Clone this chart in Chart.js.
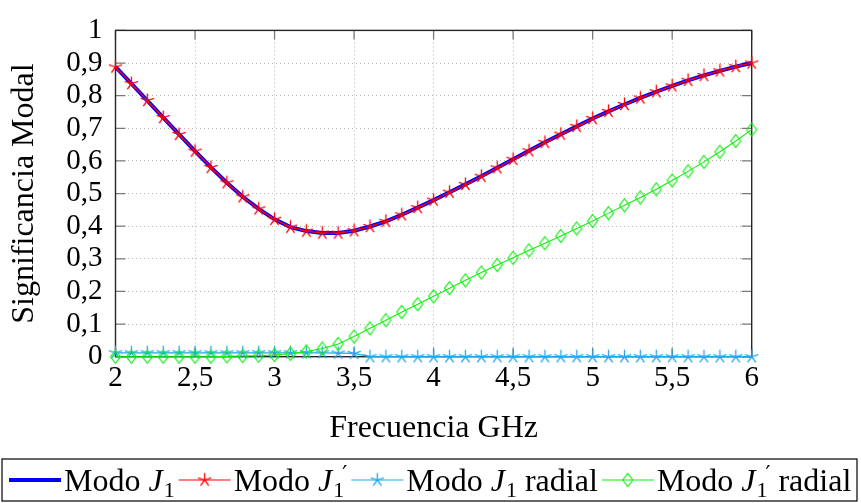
<!DOCTYPE html>
<html><head><meta charset="utf-8">
<script src="https://cdn.jsdelivr.net/npm/chart.js@4.4.0/dist/chart.umd.min.js"></script>
<style>html,body{margin:0;padding:0;background:#fff;}#wrap{width:861px;height:503px;position:relative;}</style>
</head><body><div id="wrap"><canvas id="c"></canvas></div>
<script>
const frequencies = [2.0,2.1,2.2,2.3,2.4,2.5,2.6,2.7,2.8,2.9,3.0,3.1,3.2,3.3,3.4,3.5,3.6,3.7,3.8,3.9,4.0,4.1,4.2,4.3,4.4,4.5,4.6,4.7,4.8,4.9,5.0,5.1,5.2,5.3,5.4,5.5,5.6,5.7,5.8,5.9,6.0];
const modoJ1 = [0.888,0.837,0.785,0.733,0.681,0.630,0.580,0.533,0.490,0.453,0.421,0.397,0.385,0.379,0.379,0.386,0.399,0.415,0.435,0.457,0.480,0.504,0.528,0.553,0.579,0.605,0.631,0.657,0.682,0.706,0.730,0.752,0.773,0.793,0.812,0.830,0.847,0.862,0.876,0.889,0.900];
const modoJ1p = [0.888,0.837,0.785,0.733,0.681,0.630,0.580,0.533,0.490,0.453,0.421,0.397,0.385,0.379,0.379,0.386,0.399,0.415,0.435,0.457,0.480,0.504,0.528,0.553,0.579,0.605,0.631,0.657,0.682,0.706,0.730,0.752,0.773,0.793,0.812,0.830,0.847,0.862,0.876,0.889,0.900];
const modoJ1radial = [0.012,0.012,0.012,0.012,0.012,0.012,0.012,0.012,0.012,0.012,0.012,0.012,0.012,0.012,0.011,0.010,0,0,0,0,0,0,0,0,0,0,0,0,0,0,0,0,0,0,0,0,0,0,0,0,0];
const modoJ1pRadial = [0,0,0,0,0,0,0,0.001,0.002,0.003,0.005,0.009,0.016,0.025,0.039,0.062,0.087,0.112,0.137,0.161,0.185,0.210,0.234,0.258,0.281,0.303,0.326,0.348,0.370,0.393,0.416,0.440,0.464,0.488,0.513,0.540,0.568,0.597,0.628,0.661,0.696];
const xTickLabels = ['2','2,5','3','3,5','4','4,5','5','5,5','6'];
const yTickLabels = ['0','0,1','0,2','0,3','0,4','0,5','0,6','0,7','0,8','0,9','1'];
const seriesNames = ['Modo J1','Modo J1\u2032','Modo J1 radial','Modo J1\u2032 radial'];
const legendParts = [
  {pre:'Modo ', sym:'J', sub:'1', prime:false, post:''},
  {pre:'Modo ', sym:'J', sub:'1', prime:true, post:''},
  {pre:'Modo ', sym:'J', sub:'1', prime:false, post:' radial'},
  {pre:'Modo ', sym:'J', sub:'1', prime:true, post:' radial'}
];
const FONT = 'Liberation Serif';

function starImg(color, r, lw){
  const s = Math.ceil(2*r + 2*lw + 2);
  const c = document.createElement('canvas'); c.width = s; c.height = s;
  const g = c.getContext('2d'); g.strokeStyle = color; g.lineWidth = lw;
  g.beginPath();
  for (let k=0;k<5;k++){ const a = -Math.PI/2 + k*2*Math.PI/5; g.moveTo(s/2,s/2); g.lineTo(s/2 + r*Math.cos(a), s/2 + r*Math.sin(a)); }
  g.stroke(); return c;
}
function diamondImg(color, w, h, lw){
  const sw = Math.ceil(w + 2*lw + 2), sh = Math.ceil(h + 2*lw + 2);
  const c = document.createElement('canvas'); c.width = sw; c.height = sh;
  const g = c.getContext('2d'); g.strokeStyle = color; g.lineWidth = lw;
  g.beginPath(); g.moveTo(sw/2, sh/2 - h/2); g.lineTo(sw/2 + w/2, sh/2); g.lineTo(sw/2, sh/2 + h/2); g.lineTo(sw/2 - w/2, sh/2); g.closePath(); g.stroke();
  return c;
}
const redStar = starImg('#ff0000', 7, 1.3);
const cyanStar = starImg('#1fa8e6', 7, 1.3);
const greenDiamond = diamondImg('#11ee11', 10, 13, 1.2);

function pts(ys){ return frequencies.map((f,i)=>({x:f, y:ys[i]})); }

const framePlugin = {
  id:'frame',
  beforeDatasetsDraw(chart){
    const {ctx, chartArea:a, scales:{x, y}} = chart;
    ctx.save();
    ctx.strokeStyle = '#7a7a7a'; ctx.lineWidth = 1.3;
    x.ticks.forEach(t=>{ const px = x.getPixelForValue(t.value); ctx.beginPath(); ctx.moveTo(px, a.bottom); ctx.lineTo(px, a.bottom-9); ctx.moveTo(px, a.top); ctx.lineTo(px, a.top+9); ctx.stroke(); });
    y.ticks.forEach(t=>{ const py = y.getPixelForValue(t.value); ctx.beginPath(); ctx.moveTo(a.left, py); ctx.lineTo(a.left+10, py); ctx.moveTo(a.right, py); ctx.lineTo(a.right-10, py); ctx.stroke(); });
    ctx.strokeStyle = '#262626'; ctx.lineWidth = 1.4;
    ctx.strokeRect(a.left, a.top, a.right-a.left, a.bottom-a.top);
    ctx.restore();
  }
};

const legendPlugin = {
  id:'texLegend',
  afterDraw(chart){
    const ctx = chart.ctx;
    const S = 32, subS = 22;
    const boxTop = 459, boxBottom = 501, boxLeft = 2, boxRight = 857;
    const cy = 480, base = 491;
    ctx.save();
    ctx.strokeStyle = '#000'; ctx.lineWidth = 1.2;
    ctx.strokeRect(boxLeft, boxTop, boxRight-boxLeft, boxBottom-boxTop);
    ctx.fillStyle = '#000'; ctx.textBaseline = 'alphabetic'; ctx.textAlign = 'left';
    let x = 9;
    const L = 52;
    chart.data.datasets.forEach((ds, i)=>{
      ctx.strokeStyle = ds.borderColor; ctx.lineWidth = ds.borderWidth;
      ctx.beginPath(); ctx.moveTo(x, cy); ctx.lineTo(x+L, cy); ctx.stroke();
      if (ds.pointStyle && typeof ds.pointStyle === 'object') {
        const im = ds.pointStyle; ctx.drawImage(im, x + L/2 - im.width/2, cy - im.height/2);
      }
      x += L + 3;
      const p = legendParts[i];
      ctx.font = S + 'px "' + FONT + '"'; ctx.fillText(p.pre, x, base); x += ctx.measureText(p.pre).width;
      ctx.font = 'italic ' + S + 'px "' + FONT + '"'; ctx.fillText(p.sym, x, base); x += ctx.measureText(p.sym).width + 1;
      ctx.font = subS + 'px "' + FONT + '"';
      ctx.fillText(p.sub, x, base + 6); let w = ctx.measureText(p.sub).width;
      if (p.prime) {
        ctx.font = '22px "DejaVu Sans"';
        ctx.fillText('\u2032', x + 9, base - 10);
        w = Math.max(w, ctx.measureText('\u2032').width + 9);
      }
      x += w;
      if (p.post) { ctx.font = S + 'px "' + FONT + '"'; ctx.fillText(p.post, x, base); x += ctx.measureText(p.post).width; }
      x += 4;
    });
    ctx.restore();
  }
};

const tickFont = {family: FONT, size: 29};
new Chart(document.getElementById('c'), {
  type: 'scatter',
  data: { datasets: [
    {label: seriesNames[0], data: pts(modoJ1), showLine: true, borderColor: '#0000ff', backgroundColor: '#0000ff', borderWidth: 4, pointRadius: 0, clip: false, order: 4},
    {label: seriesNames[1], data: pts(modoJ1p), showLine: true, borderColor: '#ff0000', backgroundColor: '#ff0000', borderWidth: 1.2, pointStyle: redStar, pointRadius: 6, clip: false, order: 3},
    {label: seriesNames[2], data: pts(modoJ1radial), showLine: true, borderColor: '#1fa8e6', backgroundColor: '#1fa8e6', borderWidth: 1.2, pointStyle: cyanStar, pointRadius: 6, clip: false, order: 2},
    {label: seriesNames[3], data: pts(modoJ1pRadial), showLine: true, borderColor: '#11ee11', backgroundColor: '#11ee11', borderWidth: 1.1, pointStyle: greenDiamond, pointRadius: 6, clip: false, order: 1}
  ]},
  options: {
    responsive: true, maintainAspectRatio: false, animation: false, devicePixelRatio: 1, events: [],
    layout: {padding: {left: 0, top: 23.3, right: 109.3, bottom: 54.3}},
    plugins: {legend: {display: false}, tooltip: {enabled: false}},
    scales: {
      x: {type: 'linear', min: 2, max: 6, afterFit(s){ s.height = 92; },
        ticks: {stepSize: 0.5, padding: 4, color: '#000', font: tickFont, maxRotation: 0, autoSkip: false, callback: (v, i) => xTickLabels[i]},
        grid: {color: '#b5b5b5', lineWidth: 1, drawTicks: false}, border: {display: false, dash: [1, 3]},
        title: {display: true, text: 'Frecuencia GHz', color: '#000', font: {family: FONT, size: 32}, padding: {top: 0, bottom: 0.6}}},
      y: {type: 'linear', min: 0, max: 1, afterFit(s){ s.width = 115.5; },
        ticks: {stepSize: 0.1, padding: 13, color: '#000', font: tickFont, autoSkip: false, callback: (v, i) => yTickLabels[i]},
        grid: {color: '#b5b5b5', lineWidth: 1, drawTicks: false}, border: {display: false, dash: [1, 3]},
        title: {display: true, text: 'Significancia Modal', color: '#000', font: {family: FONT, size: 32}, padding: {top: 5, bottom: 0}}}
    }
  },
  plugins: [framePlugin, legendPlugin]
});
</script></body></html>
